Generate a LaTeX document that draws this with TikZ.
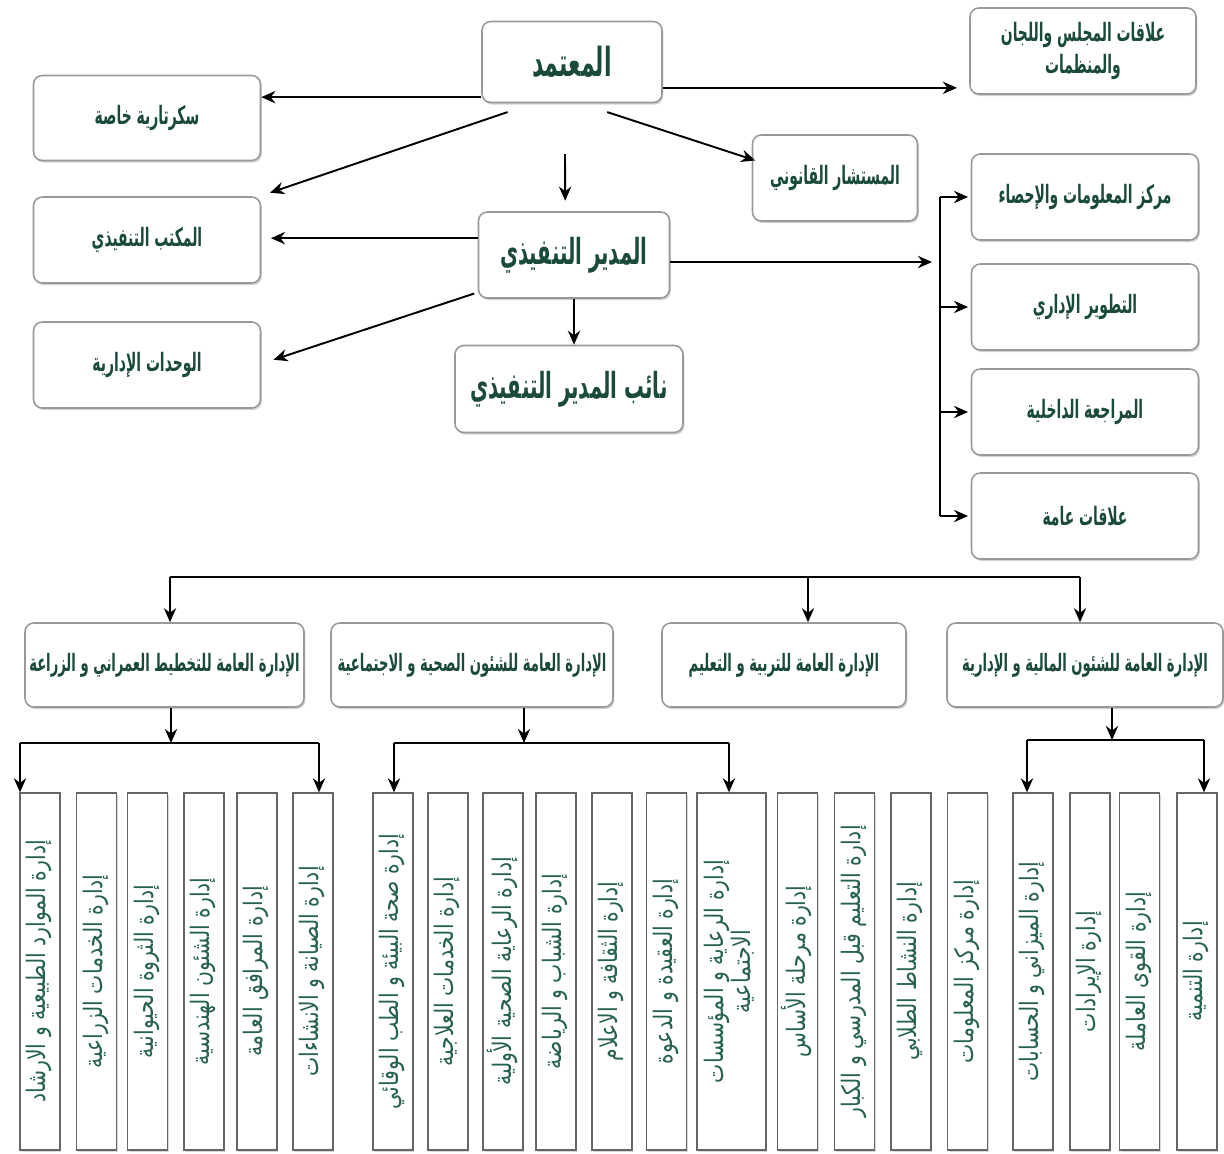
\documentclass[tikz,border=0pt]{standalone}
\usepackage{fontspec}
\usepackage{graphicx}
\usetikzlibrary{arrows.meta,shadows}
\TeXXeTstate=1
\newfontfamily\arabicfont[Script=Arabic, FakeStretch=0.55]{DejaVu Sans}
\newfontfamily\arabiccol[Script=Arabic, FakeStretch=0.8]{DejaVu Sans}
\definecolor{titlegreen}{RGB}{26,74,56}
\definecolor{colgreen}{RGB}{38,98,78}
\newcommand{\coltext}[1]{\rotatebox{90}{\begin{tabular}{@{}c@{}}#1\end{tabular}}}

\tikzset{
    box/.style={draw=gray!80, line width=0.9pt, rounded corners=5pt, fill=white,
        drop shadow={shadow xshift=0.8pt, shadow yshift=-1.2pt, opacity=0.35},
        text=titlegreen, align=center, inner sep=2pt,
        font=\arabicfont\bfseries\fontsize{14.4}{18}\selectfont},
    bigbox/.style={box, font=\arabicfont\bfseries\fontsize{20.4}{24}\selectfont},
    midbox/.style={box, font=\arabicfont\bfseries\fontsize{13.6}{16}\selectfont},
    col/.style={draw=gray!80!black, line width=0.8pt, fill=white, inner sep=0pt,
        drop shadow={shadow xshift=0.6pt, shadow yshift=-1pt, opacity=0.3},
        text=colgreen, minimum height=7.14cm,
        font=\arabiccol\fontsize{14.5}{15.5}\selectfont},
    boxsize/.style 2 args={minimum width=#1*0.02cm, minimum height=#2*0.02cm},
    link/.style={line width=1.1pt},
    arr/.style={link, -{Stealth[length=8pt,width=7pt]}}
}

\begin{document}
\begin{tikzpicture}[x=0.02cm, y=-0.02cm]
            \useasboundingbox (0,0) rectangle (1224,1153);

            % Draw the top management
            \node[bigbox, boxsize={180}{81}, font=\arabicfont\bfseries\fontsize{22.8}{26}\selectfont] (chief) at (572,62) {\beginR المعتمد\endR};
            \node[bigbox, boxsize={191}{86}] (exec) at (574,255) {\beginR المدير التنفيذي\endR};
            \node[bigbox, boxsize={228}{87}] (deputy) at (569,389) {\beginR نائب المدير التنفيذي\endR};
            \node[box, boxsize={226}{86}] (council) at (1083,51)
                {\beginR علاقات المجلس واللجان\endR\\\beginR والمنظمات\endR};
            \node[box, boxsize={165}{86}] (legal) at (835,178) {\beginR المستشار القانوني\endR};

            % Draw the boxes on the left
            \node[box, boxsize={227}{85}] (secretary) at (147,118) {\beginR سكرتارية خاصة\endR};
            \node[box, boxsize={227}{86}] (office) at (147,240) {\beginR المكتب التنفيذي\endR};
            \node[box, boxsize={227}{86}] (units) at (147,365) {\beginR الوحدات الإدارية\endR};

            % Draw the boxes on the right
            \node[box, boxsize={227}{86}] (info) at (1085,197) {\beginR مركز المعلومات والإحصاء\endR};
            \node[box, boxsize={227}{86}] (devel) at (1085,307) {\beginR التطوير الإداري\endR};
            \node[box, boxsize={227}{86}] (audit) at (1085,412) {\beginR المراجعة الداخلية\endR};
            \node[box, boxsize={227}{86}] (pr) at (1085,516) {\beginR علاقات عامة\endR};

            % Connect the top management
            \draw[arr, shorten >=7pt] ([yshift=-14.7pt]chief.east) -- ([yshift=-14.7pt]chief.east -| council.west);
            \draw[arr] ([yshift=-20pt]chief.west) -- ([yshift=-20pt]chief.west -| secretary.east);
            \draw[arr] ([xshift=15pt,yshift=-5pt]chief.south west) -- ([xshift=5pt,yshift=2pt]office.north east);
            \draw[arr] ([xshift=20pt,yshift=-5pt]chief.south) -- ([xshift=2pt,yshift=10pt]legal.west);
            \draw[arr] ([xshift=-4pt,yshift=-29pt]chief.south) -- ([xshift=-5pt,yshift=6pt]exec.north);
            \draw[arr, shorten >=5.5pt] ([yshift=9.6pt]exec.west) -- ([yshift=9.6pt]exec.west -| office.east);
            \draw[arr] ([xshift=-2pt,yshift=3pt]exec.south west) -- ([xshift=7pt,yshift=3pt]units.east);
            \draw[arr] (exec.south) -- (exec.south |- deputy.north);

            % Draw the spine on the right
            \coordinate (hub) at (932,0);
            \coordinate (spine) at (940,0);
            \draw[arr] ([yshift=-4pt]exec.east) -- ([yshift=-4pt]exec.east -| hub);
            \draw[link] (spine |- info.west) -- (spine |- pr.west);
            \foreach \n in {info,devel,audit,pr}
                \draw[arr, shorten >=1.5pt] (spine |- \n.west) -- (\n.west);

            % Draw the general departments
            \node[midbox, boxsize={279}{84}] (plan) at (164.5,665) {\beginR الإدارة العامة للتخطيط العمراني و الزراعة\endR};
            \node[midbox, boxsize={282}{84}] (health) at (472,665) {\beginR الإدارة العامة للشئون الصحية و الاجتماعية\endR};
            \node[midbox, boxsize={244}{84}] (edu) at (784,665) {\beginR الإدارة العامة للتربية و التعليم\endR};
            \node[midbox, boxsize={276}{84}] (fin) at (1085,665) {\beginR الإدارة العامة للشئون المالية و الإدارية\endR};

            % Draw the top bus
            \coordinate (busL) at (170,577);
            \coordinate (busM) at (808,577);
            \coordinate (busR) at (1080,577);
            \draw[link] (busL) -- (busR);
            \draw[arr] (busL) -- (busL |- plan.north);
            \draw[arr] (busM) -- (busM |- edu.north);
            \draw[arr] (busR) -- (busR |- fin.north);

            % Draw the departments
            \foreach \i/\x/\t in {1/40/الموارد الطبيعية و الارشاد, 2/96.5/الخدمات الزراعية,
                    3/147.5/الثروة الحيوانية, 4/204/الشئون الهندسية, 5/257/المرافق العامة,
                    6/313/الصيانة و الانشاءات, 7/393/صحة البيئة و الطب الوقائي,
                    8/448/الخدمات العلاجية, 9/503/الرعاية الصحية الأولية, 10/556/الشباب و الرياضة,
                    11/612/الثقافة و الاعلام, 12/666.5/العقيدة و الدعوة, 14/797.5/مرحلة الأساس,
                    15/854.5/التعليم قبل المدرسي و الكبار, 16/911/النشاط الطلابي,
                    17/967.5/مركز المعلومات, 18/1033/الميزاني و الحسابات, 19/1090/الإيرادات,
                    20/1139.5/القوى العاملة, 21/1197/التنمية}
                \node[col, minimum width=0.8cm] (c\i) at (\x,971.5) {\coltext{\beginR إدارة \t\endR}};
            \node[col, minimum width=1.38cm] (c13) at (731.5,971.5)
                {\coltext{\beginR إدارة الرعاية و المؤسسات\endR\\\beginR الاجتماعية\endR}};

            % Connect the departments
            \coordinate (planJ) at (171,743);
            \coordinate (planA) at (20,743);
            \coordinate (planB) at (319,743);
            \draw[arr] (plan.south -| planJ) -- (planJ);
            \draw[link] (planA) -- (planB);
            \draw[arr] (planA) -- (planA |- c1.north);
            \draw[arr] (planB) -- (planB |- c6.north);

            \coordinate (healthJ) at (524,743);
            \coordinate (healthA) at (394,743);
            \coordinate (healthB) at (729,743);
            \draw[arr] (health.south -| healthJ) -- (healthJ);
            \draw[link] (healthA) -- (healthB);
            \draw[arr] (healthA) -- (healthA |- c7.north);
            \draw[arr] (healthB) -- (healthB |- c13.north);

            \coordinate (finJ) at (1112,740);
            \coordinate (finA) at (1027,740);
            \coordinate (finB) at (1204,740);
            \draw[arr] (fin.south -| finJ) -- (finJ);
            \draw[link] (finA) -- (finB);
            \draw[arr] (finA) -- (finA |- c18.north);
            \draw[arr] (finB) -- (finB |- c21.north);
\end{tikzpicture}
\end{document}
